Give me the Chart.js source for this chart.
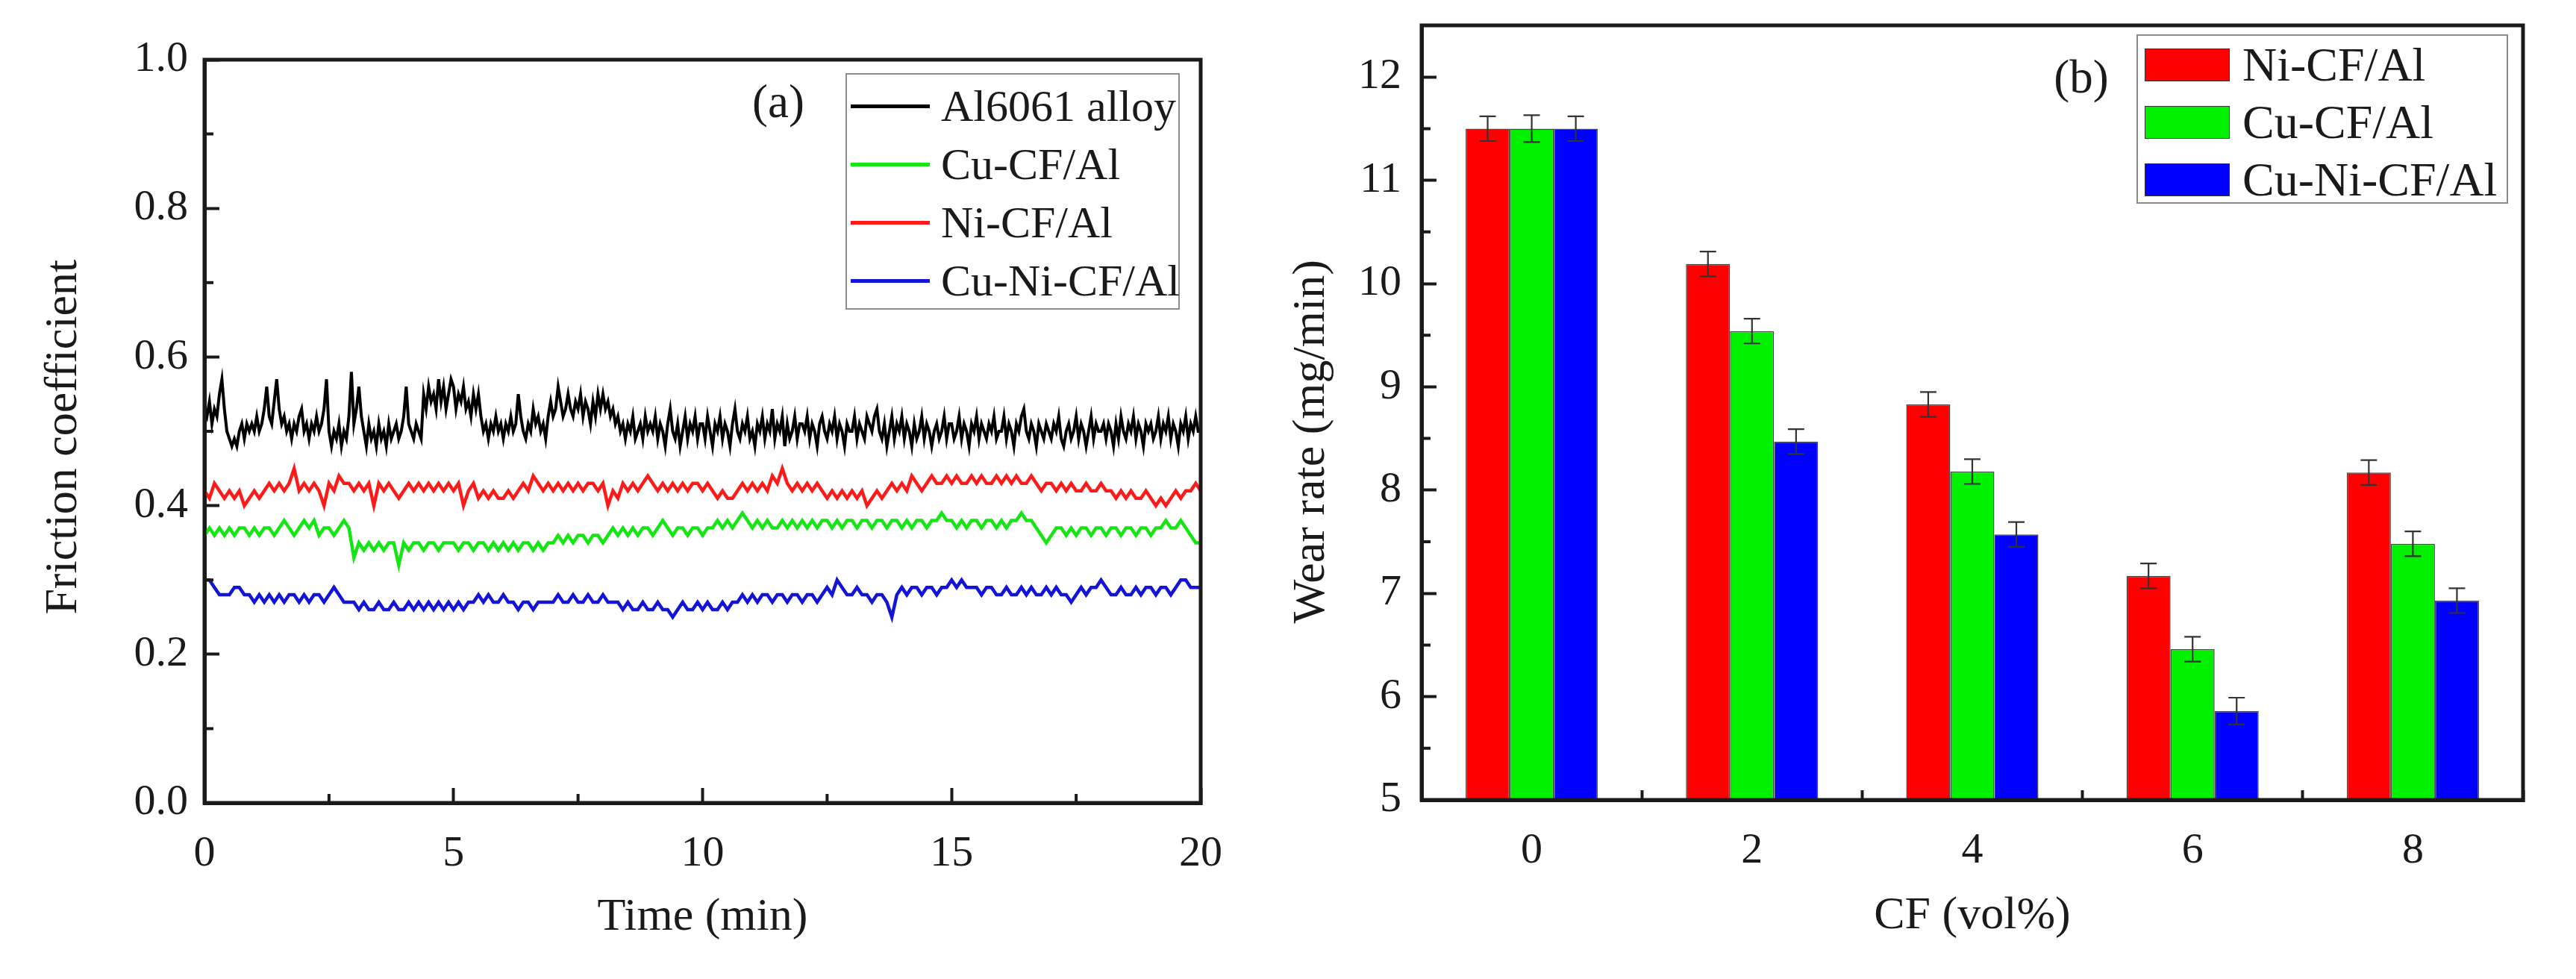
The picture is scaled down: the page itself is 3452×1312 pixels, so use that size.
<!DOCTYPE html>
<html>
<head>
<meta charset="utf-8">
<script src="https://cdn.jsdelivr.net/npm/chart.js@4.4.1/dist/chart.umd.min.js"></script>
<style>
html,body{margin:0;padding:0;background:#fff;}
body{width:3452px;height:1312px;position:relative;overflow:hidden;font-family:'Liberation Serif',serif;color:#1a1a1a;}
.panel{position:absolute;top:0;height:1312px;}
.legend{position:absolute;border:2px solid #8c8c8c;background:#fff;box-sizing:border-box;}
.row{position:absolute;left:0;right:0;display:flex;align-items:center;white-space:nowrap;}
.tag{position:absolute;font-size:63px;line-height:1;transform:translate(-50%,-50%);white-space:nowrap;}
</style>
</head>
<body>
<div class="panel" style="left:0;width:1700px"><canvas id="chartA"></canvas></div>
<div class="panel" style="left:1700px;width:1752px"><canvas id="chartB"></canvas></div>
<div class="tag" style="left:1043px;top:136px">(a)</div>
<div class="tag" style="left:2789px;top:103px">(b)</div>
<div id="legendA" class="legend" style="left:1133px;top:98px;width:448px;height:317px"></div>
<div id="legendB" class="legend" style="left:2863px;top:46px;width:498px;height:227px"></div>
<script>
// ---------------- Panel (a): friction coefficient vs time ----------------
const frictionNames = ['Al6061 alloy', 'Cu-CF/Al', 'Ni-CF/Al', 'Cu-Ni-CF/Al'];
// sampling interval (min) of each recorded series
const frictionStepMin = [0.05, 0.1, 0.1, 0.1];
const al6061 = [
  0.53,0.52,0.54,0.51,0.53,0.52,0.55,0.57,0.53,0.50,0.49,0.48,0.49,0.48,0.50,0.51,0.49,0.51,0.50,0.51,
  0.50,0.52,0.50,0.51,0.53,0.56,0.52,0.51,0.54,0.57,0.53,0.51,0.52,0.50,0.51,0.49,0.51,0.50,0.52,0.53,
  0.50,0.51,0.49,0.51,0.50,0.52,0.50,0.51,0.53,0.57,0.50,0.48,0.50,0.49,0.51,0.48,0.50,0.49,0.52,0.58,
  0.51,0.53,0.56,0.52,0.50,0.48,0.51,0.49,0.50,0.48,0.51,0.49,0.50,0.48,0.51,0.49,0.50,0.51,0.49,0.50,
  0.52,0.56,0.51,0.50,0.49,0.51,0.50,0.49,0.55,0.53,0.56,0.54,0.55,0.53,0.57,0.54,0.56,0.53,0.55,0.57,
  0.56,0.53,0.55,0.54,0.56,0.53,0.54,0.52,0.55,0.53,0.55,0.52,0.50,0.51,0.49,0.51,0.50,0.52,0.50,0.51,
  0.49,0.51,0.50,0.52,0.50,0.51,0.55,0.52,0.50,0.49,0.51,0.50,0.53,0.51,0.52,0.50,0.51,0.49,0.52,0.54,
  0.52,0.53,0.56,0.54,0.52,0.53,0.55,0.53,0.52,0.54,0.53,0.55,0.52,0.54,0.53,0.51,0.54,0.52,0.55,0.53,
  0.55,0.53,0.54,0.52,0.53,0.51,0.52,0.50,0.51,0.49,0.51,0.50,0.52,0.49,0.50,0.51,0.49,0.52,0.50,0.51,
  0.50,0.52,0.49,0.51,0.50,0.48,0.51,0.53,0.50,0.49,0.51,0.48,0.50,0.52,0.49,0.51,0.50,0.52,0.49,0.51,
  0.51,0.49,0.52,0.50,0.48,0.51,0.50,0.52,0.49,0.51,0.50,0.48,0.51,0.53,0.50,0.49,0.51,0.50,0.52,0.49,
  0.50,0.48,0.51,0.50,0.52,0.49,0.51,0.50,0.53,0.49,0.51,0.50,0.52,0.48,0.51,0.49,0.50,0.52,0.49,0.51,
  0.51,0.50,0.52,0.49,0.51,0.50,0.48,0.51,0.52,0.50,0.49,0.51,0.50,0.52,0.49,0.51,0.50,0.48,0.51,0.50,
  0.50,0.52,0.49,0.51,0.50,0.49,0.52,0.51,0.50,0.52,0.53,0.50,0.49,0.51,0.48,0.50,0.52,0.49,0.51,0.50,
  0.52,0.49,0.51,0.50,0.48,0.51,0.49,0.50,0.52,0.49,0.51,0.50,0.48,0.50,0.51,0.49,0.50,0.52,0.49,0.51,
  0.51,0.49,0.50,0.52,0.49,0.51,0.50,0.48,0.51,0.50,0.52,0.49,0.51,0.50,0.49,0.51,0.50,0.52,0.49,0.50,
  0.50,0.52,0.49,0.51,0.50,0.48,0.51,0.50,0.52,0.53,0.50,0.49,0.51,0.50,0.48,0.51,0.50,0.49,0.51,0.50,
  0.49,0.51,0.50,0.52,0.49,0.48,0.50,0.51,0.49,0.50,0.52,0.49,0.51,0.50,0.48,0.50,0.52,0.49,0.51,0.50,
  0.50,0.51,0.49,0.51,0.50,0.48,0.51,0.49,0.52,0.50,0.49,0.51,0.50,0.52,0.49,0.51,0.50,0.48,0.51,0.50,
  0.51,0.49,0.50,0.52,0.49,0.51,0.50,0.52,0.49,0.51,0.50,0.48,0.51,0.50,0.52,0.49,0.51,0.50,0.52,0.50,
  0.50
];
const cuCF = [
  0.36,0.37,0.36,0.37,0.36,0.37,0.36,0.37,0.37,0.36,
  0.37,0.36,0.37,0.37,0.36,0.37,0.38,0.37,0.36,0.37,
  0.38,0.37,0.38,0.36,0.37,0.37,0.36,0.37,0.38,0.37,
  0.33,0.35,0.34,0.35,0.34,0.35,0.34,0.35,0.35,0.32,
  0.35,0.34,0.35,0.35,0.34,0.35,0.35,0.34,0.35,0.35,
  0.35,0.34,0.35,0.35,0.34,0.35,0.35,0.34,0.35,0.34,
  0.35,0.34,0.35,0.34,0.35,0.35,0.34,0.35,0.34,0.35,
  0.35,0.36,0.35,0.36,0.35,0.36,0.36,0.35,0.36,0.36,
  0.35,0.36,0.37,0.36,0.37,0.36,0.37,0.36,0.37,0.37,
  0.36,0.37,0.38,0.37,0.36,0.37,0.37,0.36,0.37,0.37,
  0.36,0.37,0.37,0.38,0.37,0.38,0.37,0.38,0.39,0.38,
  0.37,0.38,0.37,0.38,0.37,0.37,0.38,0.37,0.38,0.37,
  0.38,0.37,0.38,0.37,0.38,0.38,0.37,0.38,0.37,0.38,
  0.38,0.37,0.38,0.38,0.37,0.38,0.38,0.37,0.38,0.38,
  0.37,0.38,0.37,0.38,0.38,0.37,0.38,0.38,0.39,0.38,
  0.38,0.37,0.38,0.37,0.38,0.38,0.37,0.38,0.38,0.37,
  0.38,0.37,0.38,0.38,0.39,0.38,0.38,0.37,0.36,0.35,
  0.36,0.37,0.37,0.36,0.37,0.36,0.37,0.37,0.36,0.37,
  0.37,0.36,0.37,0.37,0.36,0.37,0.37,0.36,0.37,0.37,
  0.36,0.37,0.37,0.38,0.37,0.37,0.38,0.37,0.36,0.35,
  0.35
];
const niCF = [
  0.42,0.41,0.43,0.42,0.41,0.42,0.41,0.42,0.40,0.41,
  0.42,0.41,0.42,0.43,0.42,0.43,0.42,0.43,0.45,0.42,
  0.43,0.42,0.43,0.42,0.40,0.43,0.42,0.44,0.43,0.43,
  0.42,0.43,0.42,0.43,0.40,0.43,0.42,0.43,0.42,0.41,
  0.42,0.43,0.42,0.43,0.42,0.43,0.42,0.43,0.42,0.43,
  0.42,0.43,0.40,0.42,0.43,0.41,0.42,0.41,0.42,0.41,
  0.41,0.42,0.41,0.42,0.43,0.42,0.44,0.43,0.42,0.43,
  0.42,0.43,0.42,0.43,0.42,0.43,0.42,0.43,0.43,0.42,
  0.43,0.40,0.42,0.41,0.43,0.42,0.43,0.42,0.43,0.44,
  0.43,0.42,0.43,0.42,0.43,0.42,0.43,0.42,0.43,0.43,
  0.42,0.43,0.42,0.41,0.42,0.41,0.41,0.42,0.43,0.42,
  0.43,0.42,0.43,0.42,0.44,0.43,0.45,0.43,0.42,0.43,
  0.42,0.43,0.42,0.43,0.42,0.41,0.42,0.41,0.42,0.41,
  0.42,0.41,0.42,0.40,0.41,0.42,0.41,0.42,0.43,0.42,
  0.43,0.42,0.44,0.43,0.42,0.43,0.44,0.43,0.43,0.44,
  0.43,0.44,0.43,0.43,0.44,0.43,0.44,0.43,0.43,0.44,
  0.43,0.44,0.43,0.44,0.43,0.43,0.44,0.43,0.42,0.43,
  0.43,0.42,0.43,0.42,0.43,0.42,0.42,0.43,0.42,0.42,
  0.43,0.42,0.42,0.41,0.42,0.41,0.42,0.41,0.41,0.42,
  0.41,0.40,0.41,0.40,0.41,0.42,0.41,0.42,0.42,0.43,
  0.42
];
const cuNiCF = [
  0.30,0.30,0.29,0.28,0.28,0.28,0.29,0.29,0.28,0.28,
  0.27,0.28,0.27,0.28,0.27,0.28,0.27,0.28,0.28,0.27,
  0.28,0.27,0.28,0.28,0.27,0.28,0.29,0.28,0.27,0.27,
  0.27,0.26,0.27,0.26,0.26,0.27,0.26,0.26,0.27,0.26,
  0.26,0.27,0.26,0.27,0.26,0.27,0.26,0.27,0.26,0.27,
  0.26,0.27,0.26,0.27,0.27,0.28,0.27,0.28,0.27,0.27,
  0.28,0.27,0.27,0.26,0.27,0.27,0.26,0.27,0.27,0.27,
  0.27,0.28,0.27,0.27,0.28,0.27,0.27,0.28,0.27,0.27,
  0.28,0.27,0.27,0.27,0.26,0.27,0.26,0.26,0.27,0.26,
  0.26,0.27,0.26,0.26,0.25,0.26,0.27,0.26,0.26,0.27,
  0.26,0.27,0.26,0.26,0.27,0.26,0.27,0.27,0.28,0.27,
  0.28,0.27,0.28,0.28,0.27,0.28,0.28,0.27,0.28,0.28,
  0.27,0.28,0.28,0.27,0.28,0.29,0.28,0.30,0.29,0.28,
  0.28,0.29,0.28,0.28,0.27,0.28,0.28,0.27,0.25,0.28,
  0.29,0.28,0.29,0.29,0.28,0.29,0.29,0.28,0.29,0.29,
  0.30,0.29,0.30,0.29,0.29,0.29,0.28,0.29,0.29,0.28,
  0.28,0.29,0.28,0.28,0.29,0.28,0.29,0.28,0.28,0.29,
  0.28,0.29,0.28,0.28,0.27,0.28,0.29,0.28,0.29,0.29,
  0.30,0.29,0.28,0.28,0.29,0.28,0.28,0.29,0.28,0.29,
  0.29,0.28,0.29,0.29,0.28,0.29,0.30,0.30,0.29,0.29,
  0.29
];
const frictionColors = ['#000000', '#14e614', '#ff1a1a', '#1414d9'];
const timeTicks = [0, 5, 10, 15, 20];
const timeMinorTicks = [2.5, 7.5, 12.5, 17.5];
const frictionTicks = [0, 0.2, 0.4, 0.6, 0.8, 1.0];
const frictionMinorTicks = [0.1, 0.3, 0.5, 0.7, 0.9];

// ---------------- Panel (b): wear rate bars ----------------
const cfVolPct = ['0', '2', '4', '6', '8'];
const wearNames = ['Ni-CF/Al', 'Cu-CF/Al', 'Cu-Ni-CF/Al'];
const wearNi = [11.50, 10.19, 8.83, 7.17, 8.17];
const wearCu = [11.50, 9.54, 8.18, 6.46, 7.48];
const wearCuNi = [11.50, 8.47, 7.57, 5.86, 6.93];
const errNi = [0.12, 0.12, 0.12, 0.12, 0.12];
const errCu = [0.13, 0.12, 0.12, 0.12, 0.12];
const errCuNi = [0.12, 0.12, 0.12, 0.13, 0.12];
const wearColors = ['#ff0000', '#00f000', '#0000ff'];
const wearTicks = [5, 6, 7, 8, 9, 10, 11, 12];
const wearMinorTicks = [5.5, 6.5, 7.5, 8.5, 9.5, 10.5, 11.5];

// ---------------- shared styling ----------------
const FONT = "'Liberation Serif', serif";
const INK = '#1a1a1a';

const framePlugin = {
  id: 'frame',
  afterDraw(chart, args, opts) {
    const {ctx, chartArea: a} = chart;
    ctx.save();
    ctx.strokeStyle = opts.color;
    ctx.lineWidth = opts.minorWidth;
    ctx.beginPath();
    (opts.minorX || []).forEach(v => {
      const x = chart.scales.x.getPixelForValue(v);
      ctx.moveTo(x, a.bottom); ctx.lineTo(x, a.bottom - opts.minorLen);
    });
    (opts.minorY || []).forEach(v => {
      const y = chart.scales.y.getPixelForValue(v);
      ctx.moveTo(a.left, y); ctx.lineTo(a.left + opts.minorLen, y);
    });
    ctx.stroke();
    ctx.lineWidth = opts.width;
    ctx.lineJoin = 'miter';
    ctx.strokeRect(a.left, a.top, a.right - a.left, a.bottom - a.top);
    ctx.restore();
  }
};

const errorBarPlugin = {
  id: 'errorBars',
  afterDatasetsDraw(chart, args, opts) {
    const {ctx} = chart;
    const yScale = chart.scales.y;
    ctx.save();
    ctx.strokeStyle = opts.color;
    ctx.lineWidth = opts.width;
    chart.data.datasets.forEach((ds, di) => {
      const meta = chart.getDatasetMeta(di);
      const errs = opts.errors[di];
      meta.data.forEach((bar, i) => {
        const v = ds.data[i], e = errs[i];
        const yT = yScale.getPixelForValue(v + e);
        const yB = yScale.getPixelForValue(v - e);
        const x = bar.x, hw = opts.capWidth / 2;
        ctx.beginPath();
        ctx.moveTo(x, yT); ctx.lineTo(x, yB);
        ctx.moveTo(x - hw, yT); ctx.lineTo(x + hw, yT);
        ctx.moveTo(x - hw, yB); ctx.lineTo(x + hw, yB);
        ctx.stroke();
      });
    });
    ctx.restore();
  }
};

function zeroPad(s) { s.paddingLeft = 0; s.paddingRight = 0; s.paddingTop = 0; s.paddingBottom = 0; }

function drawCharts() {
  Chart.defaults.font.family = FONT;
  Chart.defaults.color = INK;

  // ---------------- Chart (a) ----------------
  const frictionSeries = [al6061, cuCF, niCF, cuNiCF];
  new Chart(document.getElementById('chartA'), {
    type: 'line',
    data: {
      datasets: frictionSeries.map((d, i) => ({
        label: frictionNames[i],
        data: d.map((v, k) => ({ x: k * frictionStepMin[i], y: v })),
        borderColor: frictionColors[i], backgroundColor: frictionColors[i],
        borderWidth: i === 0 ? 4 : 4.5, pointRadius: 0, tension: 0, fill: false
      }))
    },
    options: {
      responsive: true, maintainAspectRatio: false, animation: false, devicePixelRatio: 1,
      layout: { autoPadding: false, padding: { left: 0, top: 80, right: 91, bottom: 0 } },
      plugins: {
        legend: { display: false }, tooltip: { enabled: false },
        frame: { color: INK, width: 5, minorWidth: 4, minorLen: 12, minorX: timeMinorTicks, minorY: frictionMinorTicks }
      },
      scales: {
        x: {
          type: 'linear', min: 0, max: 20,
          afterBuildTicks: s => { s.ticks = timeTicks.map(v => ({ value: v })); },
          afterFit: s => { s.height = 236; zeroPad(s); },
          border: { display: true, width: 5, color: INK },
          grid: { drawOnChartArea: false, drawTicks: true, tickLength: -20, tickWidth: 4, tickColor: INK },
          ticks: { padding: 54, color: INK, font: { family: FONT, size: 58 }, maxRotation: 0, autoSkip: false,
                   callback: v => String(v) },
          title: { display: true, text: 'Time (min)', color: INK, font: { family: FONT, size: 62 }, padding: { top: 0, bottom: 45 } }
        },
        y: {
          type: 'linear', min: 0, max: 1,
          afterBuildTicks: s => { s.ticks = frictionTicks.map(v => ({ value: v })); },
          afterFit: s => { s.width = 274; zeroPad(s); },
          border: { display: true, width: 5, color: INK },
          grid: { drawOnChartArea: false, drawTicks: true, tickLength: -20, tickWidth: 4, tickColor: INK },
          ticks: { padding: 42, color: INK, font: { family: FONT, size: 58 }, autoSkip: false,
                   callback: v => Number(v).toFixed(1) },
          title: { display: true, text: 'Friction coefficient\u00A0', color: INK, font: { family: FONT, size: 62 }, padding: { top: 49, bottom: 0 } }
        }
      }
    },
    plugins: [framePlugin]
  });

  // ---------------- Chart (b) ----------------
  const wearSeries = [wearNi, wearCu, wearCuNi];
  new Chart(document.getElementById('chartB'), {
    type: 'bar',
    data: {
      labels: cfVolPct,
      datasets: wearSeries.map((d, i) => ({
        label: wearNames[i], data: d,
        backgroundColor: wearColors[i], borderColor: 'rgba(40,40,40,0.85)', borderWidth: 1.5,
        categoryPercentage: 0.6, barPercentage: 1.0
      }))
    },
    options: {
      responsive: true, maintainAspectRatio: false, animation: false, devicePixelRatio: 1,
      layout: { autoPadding: false, padding: { left: 0, top: 34, right: 71, bottom: 0 } },
      plugins: {
        legend: { display: false }, tooltip: { enabled: false },
        frame: { color: INK, width: 5, minorWidth: 4, minorLen: 12, minorY: wearMinorTicks },
        errorBars: { errors: [errNi, errCu, errCuNi], color: '#333333', width: 2.2, capWidth: 22 }
      },
      scales: {
        x: {
          type: 'category', offset: true,
          afterFit: s => { s.height = 240; zeroPad(s); },
          border: { display: true, width: 5, color: INK },
          grid: { offset: true, drawOnChartArea: false, drawTicks: true, tickLength: -13, tickWidth: 4, tickColor: INK },
          ticks: { padding: 47, color: INK, font: { family: FONT, size: 58 }, maxRotation: 0, autoSkip: false },
          title: { display: true, text: 'CF (vol%)', color: INK, font: { family: FONT, size: 62 }, padding: { top: 0, bottom: 47 } }
        },
        y: {
          type: 'linear', min: 5, max: 12.5,
          afterBuildTicks: s => { s.ticks = wearTicks.map(v => ({ value: v })); },
          afterFit: s => { s.width = 205; zeroPad(s); },
          border: { display: true, width: 5, color: INK },
          grid: { drawOnChartArea: false, drawTicks: true, tickLength: -20, tickWidth: 4, tickColor: INK },
          ticks: { padding: 47, color: INK, font: { family: FONT, size: 58 }, autoSkip: false,
                   callback: v => String(v) },
          title: { display: true, text: 'Wear rate (mg/min)\u00A0\u00A0\u00A0\u00A0\u00A0', color: INK, font: { family: FONT, size: 62 }, padding: { top: 21, bottom: 0 } }
        }
      }
    },
    plugins: [framePlugin, errorBarPlugin]
  });
}

// ---------------- legends (built from the dataset names/colours) ----------------
function buildLegend(id, names, colors, opt) {
  const box = document.getElementById(id);
  names.forEach((name, i) => {
    const row = document.createElement('div');
    row.className = 'row';
    row.style.top = (opt.firstCenter + i * opt.step - opt.step / 2) + 'px';
    row.style.height = opt.step + 'px';
    const sw = document.createElement('div');
    sw.style.marginLeft = opt.swLeft + 'px';
    sw.style.width = opt.swW + 'px';
    sw.style.height = opt.swH + 'px';
    sw.style.background = colors[i];
    sw.style.flex = '0 0 auto';
    sw.style.boxSizing = 'border-box';
    if (opt.swBorder) sw.style.border = opt.swBorder;
    const tx = document.createElement('span');
    tx.textContent = name;
    tx.style.marginLeft = opt.gap + 'px';
    tx.style.fontSize = opt.font + 'px';
    tx.style.lineHeight = '1';
    row.appendChild(sw); row.appendChild(tx);
    box.appendChild(row);
  });
}
buildLegend('legendA', frictionNames, frictionColors,
  { firstCenter: 42, step: 78, swLeft: 5, swW: 106, swH: 5, gap: 15, font: 60 });
buildLegend('legendB', wearNames, wearColors,
  { firstCenter: 39, step: 77, swLeft: 9, swW: 114, swH: 44, gap: 17, font: 64, swBorder: '1.5px solid #333' });

const fontReady = (document.fonts && document.fonts.load)
  ? Promise.all([document.fonts.load("58px 'Liberation Serif'"), document.fonts.load("62px 'Liberation Serif'")])
  : Promise.resolve();
fontReady.catch(() => {}).then(drawCharts);
</script>
</body>
</html>
